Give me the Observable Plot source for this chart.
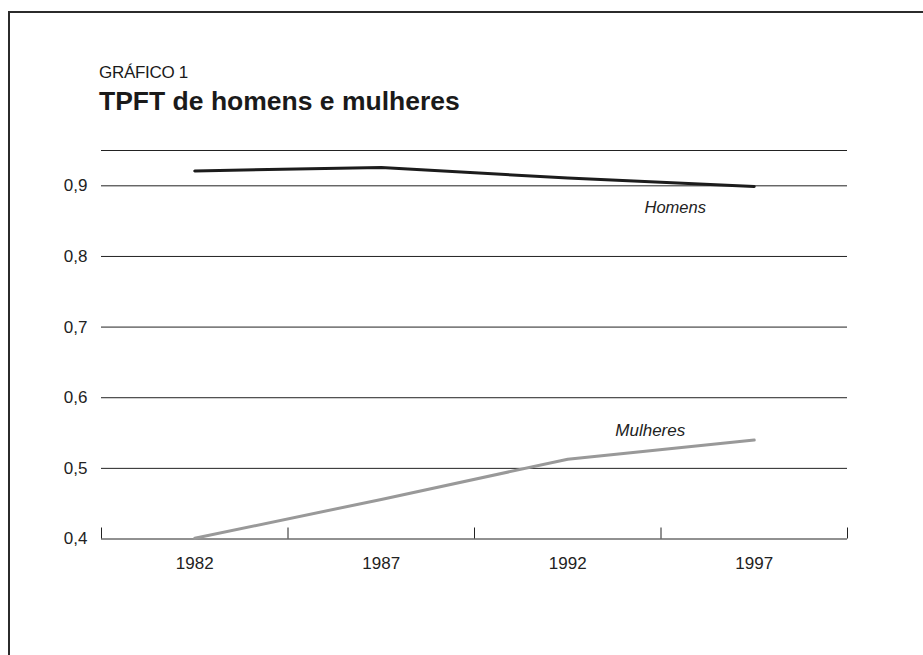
<!DOCTYPE html>
<html>
<head>
<meta charset="utf-8">
<script src="https://cdn.jsdelivr.net/npm/d3@7"></script>
<script src="https://cdn.jsdelivr.net/npm/@observablehq/plot@0.6"></script>
<style>
  html, body { margin: 0; padding: 0; background: #fff; }
  #page { position: relative; width: 923px; height: 655px; overflow: hidden; background: #fff; }
  #frame { position: absolute; left: 8px; top: 11px; width: 940px; height: 700px;
           border-left: 2px solid #2b2b2b; border-top: 2px solid #2b2b2b; }
  .t { position: absolute; left: 99px; color: #1a1a1a; font-family: "Liberation Sans", Arial, sans-serif; white-space: nowrap; }
  #kicker { top: 64px; font-size: 17px; line-height: 17px; letter-spacing: -0.3px; }
  #title { top: 88px; font-size: 26.5px; line-height: 26px; font-weight: bold; }
  #chart { position: absolute; left: 0; top: 0; }
</style>
</head>
<body>
<div id="page">
  <div id="frame"></div>
  <div class="t" id="kicker">GRÁFICO 1</div>
  <div class="t" id="title">TPFT de homens e mulheres</div>
  <div id="chart"></div>
</div>
<script>
const years = [1982, 1987, 1992, 1997];
const homens = [0.921, 0.926, 0.911, 0.899];
const mulheres = [0.401, 0.456, 0.513, 0.540];
const yTicks = [0.4, 0.5, 0.6, 0.7, 0.8, 0.9];
const gridTop = 0.95;
const bandEdges = [1979.5, 1984.5, 1989.5, 1994.5, 1999.5];
const seriesNames = ["Homens", "Mulheres"];

const rowsH = years.map((y, i) => ({year: y, value: homens[i], serie: seriesNames[0]}));
const rowsM = years.map((y, i) => ({year: y, value: mulheres[i], serie: seriesNames[1]}));

const font = "'Liberation Sans', Arial, sans-serif";
const fmt = d => d.toFixed(1).replace(".", ",");

const chart = Plot.plot({
  width: 923,
  height: 655,
  marginLeft: 101,
  marginRight: 76,
  marginTop: 150,
  marginBottom: 116.5,
  x: {domain: [1979.5, 1999.5], label: null},
  y: {domain: [0.4, gridTop], label: null},
  style: {fontFamily: font, fontSize: "17px", color: "#222", background: "transparent"},
  marks: [
    Plot.ruleY([...yTicks, gridTop], {stroke: "#222", strokeWidth: 1}),
    Plot.ruleX(bandEdges, {stroke: "#222", strokeWidth: 1, insetTop: 377.5}),
    Plot.axisY({ticks: yTicks, tickSize: 0, tickPadding: 14, tickFormat: fmt, fontSize: 17, label: null}),
    Plot.axisX({ticks: years, tickSize: 0, tickPadding: 18, tickFormat: d => String(d), fontSize: 17, label: null}),
    Plot.line(rowsM, {x: "year", y: "value", stroke: "#999", strokeWidth: 3}),
    Plot.line(rowsH, {x: "year", y: "value", stroke: "#1c1c1c", strokeWidth: 3}),
    Plot.text(rowsH.slice(-1), {x: "year", y: "value", text: "serie", dx: -79, dy: 26, lineAnchor: "bottom",
      textAnchor: "middle", fontStyle: "italic", fontSize: 16.5, fill: "#222"}),
    Plot.text(rowsM.slice(-1), {x: "year", y: "value", text: "serie", dx: -104, dy: -4, lineAnchor: "bottom",
      textAnchor: "middle", fontStyle: "italic", fontSize: 17, fill: "#222"})
  ]
});
document.getElementById("chart").appendChild(chart);
</script>
</body>
</html>
